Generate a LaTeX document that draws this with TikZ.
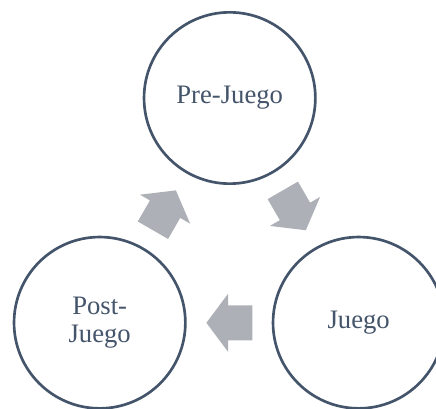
\documentclass[tikz,border=0pt]{standalone}
\usepackage{fontspec}
\setmainfont{Liberation Serif}
\definecolor{slate}{HTML}{44546A}
\definecolor{arrowgray}{RGB}{173,176,182}
\begin{document}
\begin{tikzpicture}[x=.75pt,y=.75pt,
                    stage/.style={circle,draw=slate,line width=2pt,minimum size=128.5pt,
                                  inner sep=0pt,text=slate,align=center,
                                  font=\fontsize{20}{20.5}\selectfont},
                    blockarrow/.style={fill=arrowgray}]
 \useasboundingbox (0,0) rectangle (436,408);
 \node[stage] (pre) at (229.7,310) {Pre-Juego};
 \node[stage] (juego) at (358.7,85.3) {Juego};
 \node[stage] (post) at (99.7,85.3) {Post-\\Juego};
 \coordinate (ctr) at (barycentric cs:pre=1,juego=1,post=1);
 % block arrows round the cycle
 \foreach \pos/\dir in {30/-60,-90/180,150/60}
  \fill[blockarrow,shift={(ctr)},shift={(\pos:75)},rotate=\dir]
   (-23,-17.5)--(1.3,-17.5)--(1.3,-29)--(23,0)--(1.3,29)--(1.3,17.5)--(-23,17.5)--cycle;
\end{tikzpicture}
\end{document}
